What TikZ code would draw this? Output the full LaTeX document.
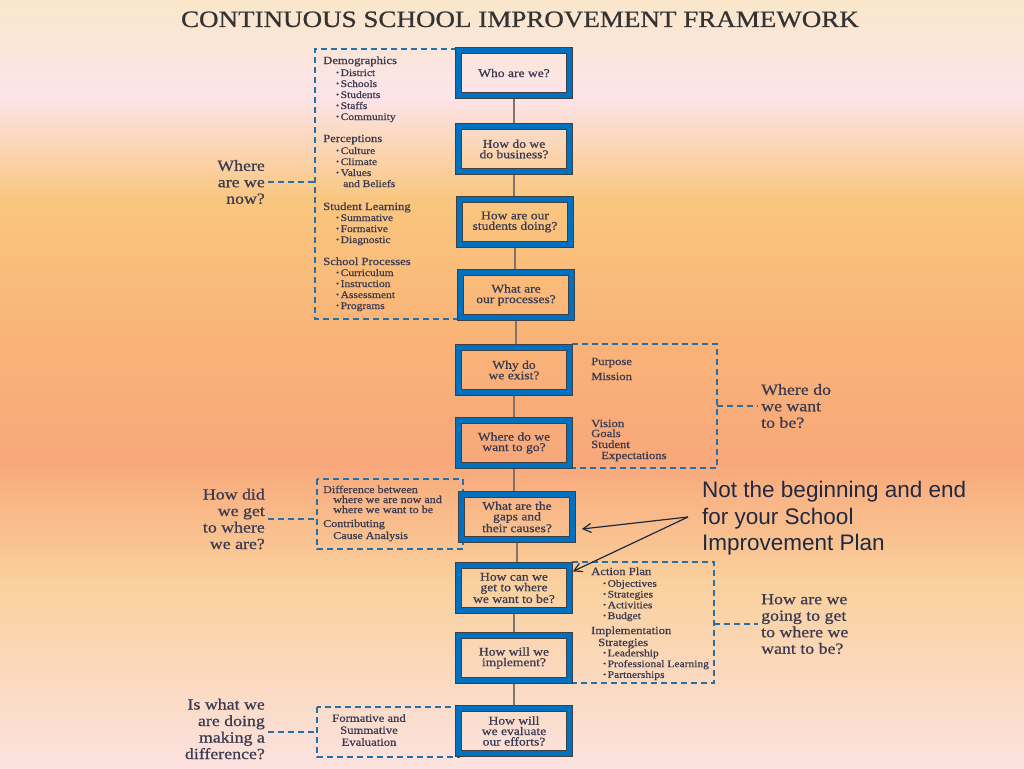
\documentclass[tikz,border=0pt]{standalone}
\usepackage{fontspec}
\setmainfont{Liberation Serif}[FakeStretch=1.15, FakeBold=0.7]
\newfontfamily\notefont{Liberation Sans}
\usepackage{graphicx}
\usetikzlibrary{positioning, arrows.meta}
\definecolor{FrameBlue}{RGB}{0,112,192}
\definecolor{DashBlue}{RGB}{38,112,170}
\definecolor{InkColor}{RGB}{58,58,80}
\definecolor{StemColor}{RGB}{128,116,108}
\definecolor{NoteColor}{RGB}{32,40,66}
\definecolor{BgA}{RGB}{250,231,202}
\definecolor{BgB}{RGB}{252,228,234}
\definecolor{BgC}{RGB}{250,198,126}
\definecolor{BgD}{RGB}{249,180,120}
\definecolor{BgE}{RGB}{248,168,122}
\definecolor{BgF}{RGB}{250,208,156}
\definecolor{BgG}{RGB}{252,226,224}
\newcommand{\itm}{\raisebox{1.2pt}{\scalebox{0.7}{\textbullet}}\,}

\begin{document}
\begin{tikzpicture}[x=1pt, y=-1pt, >={Straight Barb[length=8pt,width=9pt]},
    qbox/.style={draw=black!75, double=FrameBlue, double distance=5.2pt, line width=0.7pt,
        minimum width=111pt, minimum height=44.5pt, align=center, inner sep=1pt,
        text=InkColor, font=\fontsize{11.8}{10.5}\selectfont},
    head/.style={anchor=base west, inner sep=0pt, text=InkColor, font=\fontsize{11}{11}\selectfont},
    item/.style={head, font=\fontsize{10}{11}\selectfont},
    gapitem/.style={head, font=\fontsize{10.5}{11}\selectfont},
    side/.style={inner sep=3pt, text=InkColor, font=\fontsize{15.5}{16.5}\selectfont},
    frame/.style={draw=DashBlue, line width=1.5pt, dash pattern=on 6pt off 4pt},
    stem/.style={draw=StemColor, line width=1.6pt, shorten <=3pt, shorten >=3pt},
    pointer/.style={->, draw=NoteColor, line width=1.2pt}]
    \useasboundingbox (0,0) rectangle (1024,768);
    % Background
    \foreach \ya/\yb/\ca/\cb in {0/95/BgA/BgB, 95/200/BgB/BgC, 200/330/BgC/BgD,
        330/460/BgD/BgE, 460/580/BgE/BgF, 580/768/BgF/BgG}
        {\fill[top color=\ca, bottom color=\cb] (0,\ya) rectangle (1024,\yb+1);}
    % Title
    \node[anchor=base, inner sep=0pt, text=black!80, font=\fontsize{23.5}{24}\selectfont]
        (heading) at (520,27) {CONTINUOUS SCHOOL IMPROVEMENT FRAMEWORK};
    % Dashed frames
    \draw[frame] (457,49) -- (315,49) -- (315,319) -- (459,319);
    \draw[frame] (572,344) -- (717,344) -- (717,468) -- (572,468);
    \draw[frame] (317,479) rectangle (463,549);
    \draw[frame] (572,562) -- (714,562) -- (714,683) -- (572,683);
    \draw[frame] (317,707) rectangle (459,757);
    \coordinate (nowjoin) at (315,182);
    \coordinate (bejoin) at (717,406);
    \coordinate (gotjoin) at (317,519);
    \coordinate (planjoin) at (714,624);
    \coordinate (evaljoin) at (317,732);
    % Questions
    \node[side, align=right, anchor=east] (now) at (268,182) {Where\\are we\\now?};
    \node[side, align=left, anchor=west] (wantbe) at (758,406) {Where do\\we want\\to be?};
    \node[side, align=right, anchor=east] (gotthere) at (268,519) {How did\\we get\\to where\\we are?};
    \node[side, align=left, anchor=west] (goingto) at (758,624) {How are we\\going to get\\to where we\\want to be?};
    \node[side, align=right, anchor=east] (making) at (268,729) {Is what we\\are doing\\making a\\difference?};
    \draw[frame] (now.east) -- (nowjoin);
    \draw[frame] (bejoin) -- (wantbe.west);
    \draw[frame] (gotthere.east) -- (gotjoin);
    \draw[frame] (planjoin) -- (goingto.west);
    \draw[frame] (making.east |- evaljoin) -- (evaljoin);
    % Boxes
    \node[qbox] (who) at (514,73) {Who are we?};
    \node[qbox] (biz) at (514,149) {How do we\\do business?};
    \node[qbox] (doing) at (515,222) {How are our\\students doing?};
    \node[qbox] (proc) at (516,295) {What are\\our processes?};
    \node[qbox] (exist) at (514,370) {Why do\\we exist?};
    \node[qbox] (go) at (514,443) {Where do we\\want to go?};
    \node[qbox] (gaps) at (517,517) {What are the\\gaps and\\their causes?};
    \node[qbox] (getto) at (514,588) {How can we\\get to where\\we want to be?};
    \node[qbox] (impl) at (514,658) {How will we\\implement?};
    \node[qbox] (eval) at (514,731) {How will\\we evaluate\\our efforts?};
    \foreach \a/\b in {who/biz, biz/doing, doing/proc, proc/exist, exist/go,
        go/gaps, gaps/getto, getto/impl, impl/eval}
        {\draw[stem] (\a.south) -- (\a.south |- \b.north);}
    % Where are we now
    \node[head] (demo) at (323,64) {Demographics};
    \foreach \t [count=\i] in {District,Schools,Students,Staffs,Community}
        {\node[item] (demo\i) at (336,65+11*\i) {\itm\t};}
    \node[head] (perc) at (323,142) {Perceptions};
    \foreach \t [count=\i] in {Culture,Climate,Values}
        {\node[item] (perc\i) at (336,143+11*\i) {\itm\t};}
    \node[item] (perc4) at (343,187) {and Beliefs};
    \node[head] (learn) at (323,210) {Student Learning};
    \foreach \t [count=\i] in {Summative,Formative,Diagnostic}
        {\node[item] (learn\i) at (336,210+11*\i) {\itm\t};}
    \node[head] (sproc) at (323,265) {School Processes};
    \foreach \t [count=\i] in {Curriculum,Instruction,Assessment,Programs}
        {\node[item] (sproc\i) at (336,265+11*\i) {\itm\t};}
    % Where do we want to be
    \node[head] (purpose) at (591,365) {Purpose};
    \node[head] (mission) at (591,380) {Mission};
    \node[head] (vision) at (591,427) {Vision};
    \node[head] (goals) at (591,437) {Goals};
    \node[head] (student) at (591,448) {Student};
    \node[head] (expect) at (601,459) {Expectations};
    % How did we get here
    \node[gapitem] (diff) at (323,493) {Difference between};
    \node[gapitem] (diff1) at (333,503) {where we are now and};
    \node[gapitem] (diff2) at (333,513) {where we want to be};
    \node[gapitem] (contrib) at (323,527) {Contributing};
    \node[gapitem] (contrib1) at (333,539) {Cause Analysis};
    % Getting there
    \node[head] (action) at (591,575) {Action Plan};
    \foreach \t [count=\i] in {Objectives,Strategies,Activities,Budget}
        {\node[item] (action\i) at (603,576+10.75*\i) {\itm\t};}
    \node[head] (implement) at (591,634) {Implementation};
    \node[head] (strat) at (598,646) {Strategies};
    \foreach \t [count=\i] in {Leadership,Professional Learning,Partnerships}
        {\node[item] (strat\i) at (603,645.5+10.8*\i) {\itm\t};}
    % Making a difference
    \node[align=center, inner sep=0pt, text=InkColor, font=\fontsize{11}{12}\selectfont]
        (formsum) at (369,730) {Formative and\\Summative\\Evaluation};
    % Remark
    \node[anchor=north west, inner sep=0pt, align=left, text=NoteColor,
        font=\notefont\fontsize{22.5}{26.5}\selectfont]
        (remark) at (702,481) {Not the beginning and end\\for your School\\Improvement Plan};
    \coordinate (fork) at (688,517);
    \draw[pointer] (fork) -- ([xshift=9pt, yshift=-12pt]gaps.east);
    \draw[pointer] (fork) -- ([xshift=3pt, yshift=-6pt]getto.north east);
\end{tikzpicture}
\end{document}
